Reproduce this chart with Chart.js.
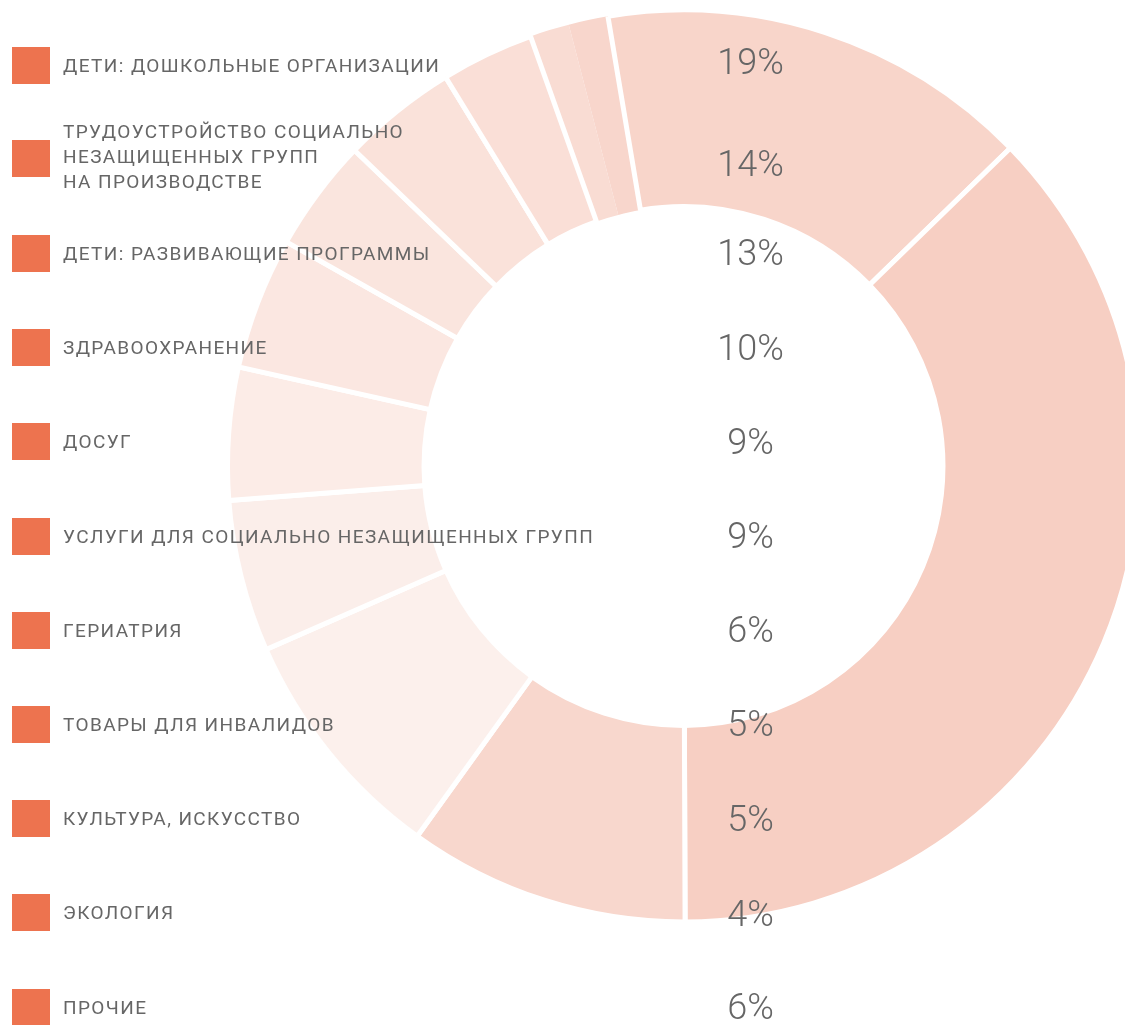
<!DOCTYPE html>
<html><head><meta charset="utf-8">
<script src="https://cdn.jsdelivr.net/npm/chart.js@4.4.1/dist/chart.umd.min.js"></script>
<style>
html,body{margin:0;padding:0;background:#fff;overflow:hidden}
#wrap{position:relative;width:1125px;height:1025px}
#c{position:absolute;left:0;top:0}
.sq{position:absolute;left:12px;width:38px;height:37px;background:#ed734f}
.lb{position:absolute;left:63px;font-family:Roboto;font-weight:400;font-size:19px;color:#666666;line-height:25px;letter-spacing:1.4px;white-space:pre}
.pc{position:absolute;left:650px;width:201px;text-align:center;font-family:Roboto;font-weight:300;font-size:36px;color:#666666;line-height:40px}
</style></head><body>
<div id="wrap"><canvas id="c" width="1125" height="1025"></canvas></div>
<script>
// Legend categories and their shares
const legendLabels = [
  'ДЕТИ: ДОШКОЛЬНЫЕ ОРГАНИЗАЦИИ',
  'ТРУДОУСТРОЙСТВО СОЦИАЛЬНО\nНЕЗАЩИЩЕННЫХ ГРУПП\nНА ПРОИЗВОДСТВЕ',
  'ДЕТИ: РАЗВИВАЮЩИЕ ПРОГРАММЫ',
  'ЗДРАВООХРАНЕНИЕ',
  'ДОСУГ',
  'УСЛУГИ ДЛЯ СОЦИАЛЬНО НЕЗАЩИЩЕННЫХ ГРУПП',
  'ГЕРИАТРИЯ',
  'ТОВАРЫ ДЛЯ ИНВАЛИДОВ',
  'КУЛЬТУРА, ИСКУССТВО',
  'ЭКОЛОГИЯ',
  'ПРОЧИЕ'
];
const legendPercents = [19, 14, 13, 10, 9, 9, 6, 5, 5, 4, 6];

// Doughnut slices as drawn (clockwise, starting at the upper-left narrow pair)
const sliceValues = [1.4, 1.4, 15.4, 37.3, 10.0, 8.5, 5.4, 4.7, 4.7, 4.0, 4.1, 3.3];
const sliceNames = sliceValues.map((v, i) => 'Сегмент ' + (i + 1));

// styles
const sliceColors = ['#f9dcd3', '#f8d6cc', '#f8d5ca', '#f7cfc3', '#f8d7cd', '#fcf0ec',
                     '#fbeeea', '#fcece7', '#fbe7e1', '#fae5de', '#fae2da', '#fadfd7'];
const sliceBorders = [0, 0, 5, 5, 5, 5, 5, 5, 5, 5, 5, 5];

new Chart(document.getElementById('c'), {
  type: 'doughnut',
  data: {
    labels: sliceNames,
    datasets: [{
      data: sliceValues,
      backgroundColor: sliceColors,
      borderColor: '#ffffff',
      borderWidth: sliceBorders
    }]
  },
  options: {
    responsive: false,
    animation: false,
    events: [],
    rotation: -19.6,
    radius: 456,
    cutout: '56.9%',
    layout: { padding: { left: 242, right: 0, top: 0, bottom: 93 } },
    plugins: { legend: { display: false }, tooltip: { enabled: false } }
  }
});

// legend overlay
const wrap = document.getElementById('wrap');
const rowTop = 65, rowStep = 94.2;
const pctY = [62, 164, 252.5, 347.5, 442, 536, 630, 723.5, 819, 914, 1007];
legendLabels.forEach((lab, i) => {
  const cy = rowTop + i * rowStep;
  const sq = document.createElement('div');
  sq.className = 'sq';
  sq.style.top = (cy - 18.5 + (i === 1 ? -0.7 : 0)) + 'px';
  wrap.appendChild(sq);
  const lb = document.createElement('div');
  lb.className = 'lb';
  lb.textContent = lab;
  const lines = lab.split('\n').length;
  const tcy = i === 1 ? 156.5 : cy;
  lb.style.top = (tcy - lines * 25 / 2) + 'px';
  wrap.appendChild(lb);
  const pc = document.createElement('div');
  pc.className = 'pc';
  pc.textContent = legendPercents[i] + '%';
  pc.style.top = (pctY[i] - 20) + 'px';
  wrap.appendChild(pc);
});
</script>
</body></html>
